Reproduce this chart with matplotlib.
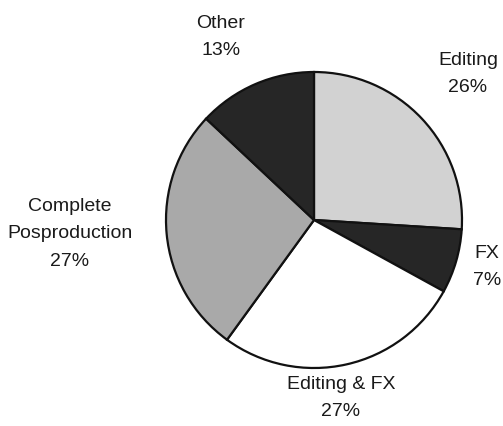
import matplotlib
matplotlib.use("Agg")
import matplotlib.pyplot as plt

categories = ["Editing", "FX", "Editing & FX", "Complete\nPosproduction", "Other"]
shares = [26, 7, 27, 27, 13]
colors = ["#d2d2d2", "#262626", "#ffffff", "#a9a9a9", "#262626"]

# label anchor points (pixel space, origin bottom-left)
label_xy = [(468, 353), (487, 160), (341, 29), (70, 193), (221, 390)]

W, H = 503, 427
fig = plt.figure(figsize=(W / 100, H / 100), dpi=100)
ax = fig.add_axes([0, 0, 1, 1])

ax.pie(shares, colors=colors, startangle=90, counterclock=False,
       center=(314, 206), radius=148, frame=True,
       wedgeprops=dict(edgecolor="#111111", linewidth=1.6))
ax.set_xlim(0, W)
ax.set_ylim(0, H)
ax.set_aspect("equal")
ax.axis("off")

for name, val, (x, y) in zip(categories, shares, label_xy):
    ax.text(x, y, f"{name}\n{val}%", ha="center", va="center",
            fontsize=14, family=["Liberation Sans", "DejaVu Sans"],
            color="#1a1a1a", linespacing=1.8)

fig.savefig("out.png", dpi=100, facecolor="white")
